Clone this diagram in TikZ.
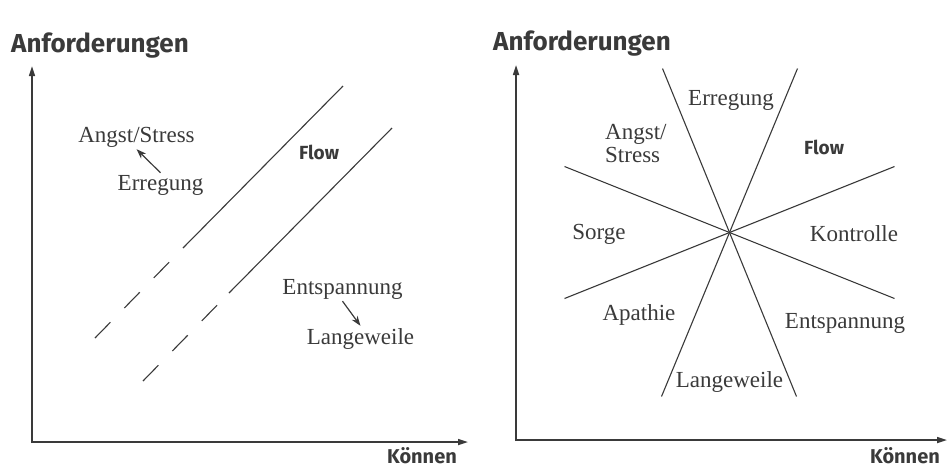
\documentclass[tikz,border=0pt]{standalone}
\usepackage{fontspec}
\setmainfont{Liberation Serif}
\setsansfont{Fira Sans}
\usetikzlibrary{arrows.meta,calc}
\definecolor{ink}{HTML}{3A3A3A}
\tikzset{
  lbl/.style={font=\fontsize{23}{23}\selectfont, text=ink, inner sep=2pt, anchor=base},
  axlbl/.style={font=\sffamily\bfseries\fontsize{26}{26}\selectfont, text=ink, inner sep=0pt, anchor=base west},
  klbl/.style={font=\sffamily\bfseries\fontsize{20}{20}\selectfont, text=ink, inner sep=0pt, anchor=base},
  flowlbl/.style={font=\sffamily\bfseries\fontsize{19}{19}\selectfont, text=ink, inner sep=0pt, anchor=base},
  axis/.style={ink, line width=1.6pt, -{Triangle[length=10pt,width=6pt]}},
  band/.style={ink, line width=1.1pt},
  arr/.style={ink, line width=1.2pt, -{Stealth[length=10pt,width=7pt]}}
}
\begin{document}
\begin{tikzpicture}[x=1pt,y=-1pt]
    \useasboundingbox (0,0) rectangle (947,467);

    % Left diagram: axes
    \draw[axis] (32,443) -- (32,66);
    \draw[axis] (31,442) -- (468,442);
    \node[axlbl] (anfL) at (11,52) {Anforderungen};
    \node[klbl] (koennenL) at (422,463) {Können};

    % Flow channel, solid and dashed parts
    \draw[band] (343,86) -- (183,248);
    \draw[band, dash pattern=on 22pt off 20pt] (95,338) -- (183,248);
    \draw[band] (392,128) -- (229,293);
    \draw[band, dash pattern=on 22pt off 20pt] (143,381) -- (229,293);

    % Labels and arrows
    \node[lbl] (angstL) at (136.5,142) {Angst/Stress};
    \node[lbl] (erregungL) at (160.5,190) {Erregung};
    \node[flowlbl] (flowL) at (319,159) {Flow};
    \node[lbl] (entspL) at (342.5,294) {Entspannung};
    \node[lbl] (langL) at (360.5,344) {Langeweile};
    \draw[arr] (erregungL.north) -- (angstL.south);
    \draw[arr] (entspL.south) -- (langL.north);

    % Right diagram: axes
    \draw[axis] (516,441) -- (516,65);
    \draw[axis] (515,440) -- (947,440);
    \node[axlbl] (anfR) at (493,50) {Anforderungen};
    \node[klbl] (koennenR) at (905,463) {Können};

    % Eight sectors around the centre
    \coordinate (c) at (729.5,232.5);
    \foreach \dx/\dy in {67/164, -68/164, 165/66, -165/66}
        \draw[band] ($(c)+(-\dx,-\dy)$) -- ($(c)+(\dx,\dy)$);

    % Sector labels
    \node[lbl] (erregungR) at (731,105) {Erregung};
    \node[lbl, anchor=base west, align=left] (angstR) at (603,162) {Angst/\\Stress};
    \node[flowlbl] (flowR) at (824,154) {Flow};
    \node[lbl] (sorge) at (599,239) {Sorge};
    \node[lbl] (kontrolle) at (854,241) {Kontrolle};
    \node[lbl] (apathie) at (639,320) {Apathie};
    \node[lbl] (entspR) at (845,328) {Entspannung};
    \node[lbl] (langR) at (729.5,387) {Langeweile};
\end{tikzpicture}
\end{document}
